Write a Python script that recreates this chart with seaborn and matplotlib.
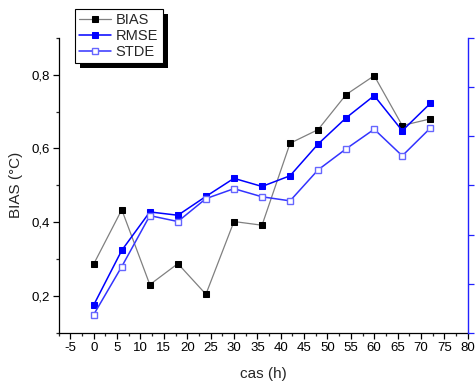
import matplotlib
matplotlib.use("Agg")
import matplotlib.pyplot as plt
from matplotlib.patches import Rectangle
from matplotlib.ticker import MultipleLocator, NullFormatter
import seaborn as sns
import pandas as pd

hours = [0, 6, 12, 18, 24, 30, 36, 42, 48, 54, 60, 66, 72]
bias = [0.287, 0.434, 0.231, 0.288, 0.205, 0.402, 0.392, 0.614, 0.651, 0.746, 0.797, 0.662, 0.680]
rmse = [0.176, 0.324, 0.428, 0.419, 0.470, 0.519, 0.497, 0.526, 0.612, 0.683, 0.743, 0.648, 0.722]
stde = [0.150, 0.280, 0.418, 0.402, 0.464, 0.491, 0.469, 0.458, 0.542, 0.599, 0.652, 0.580, 0.655]
x_ticks = list(range(-5, 81, 5))
y_ticks = [0.2, 0.4, 0.6, 0.8]
y_labels = ["0,2", "0,4", "0,6", "0,8"]

sns.set_theme(style="ticks")
plt.rcParams['font.family'] = ['Liberation Sans', 'DejaVu Sans']

fig = plt.figure(figsize=(4.77, 3.83), dpi=100)
ax = fig.add_axes([0.123, 0.1305, 0.9805 - 0.123, 0.9016 - 0.1305])

df = pd.DataFrame({"h": hours, "BIAS": bias, "RMSE": rmse, "STDE": stde})

sns.lineplot(data=df, x="h", y="BIAS", ax=ax, color="#808080", lw=0.9,
             marker="s", markersize=5, markerfacecolor="black", markeredgecolor="black",
             label="BIAS")
sns.lineplot(data=df, x="h", y="RMSE", ax=ax, color="#0000ff", lw=1.1,
             marker="s", markersize=5, markerfacecolor="#0000ff", markeredgecolor="#0000ff",
             label="RMSE")
sns.lineplot(data=df, x="h", y="STDE", ax=ax, color="#3333ff", lw=1.1,
             marker="s", markersize=5, markerfacecolor="white", markeredgecolor="#6666ff",
             markeredgewidth=1.0, label="STDE")

ax.set_xlim(-7.5, 80)
ax.set_ylim(0.1, 0.9)
ax.set_xticks(x_ticks)
ax.set_xticklabels([str(t) for t in x_ticks])
ax.xaxis.set_minor_locator(MultipleLocator(2.5))
ax.set_yticks(y_ticks)
ax.set_yticklabels(y_labels)
ax.yaxis.set_minor_locator(MultipleLocator(0.1))
ax.tick_params(axis="both", which="major", direction="out", length=4.5, width=0.9,
               labelsize=9.5, colors="black", pad=2)
ax.tick_params(axis="both", which="minor", direction="out", length=2.5, width=0.9)
for s in ["left", "bottom"]:
    ax.spines[s].set_color("black")
    ax.spines[s].set_linewidth(0.9)
ax.spines["top"].set_visible(False)
ax.spines["right"].set_visible(False)
ax.set_xlabel("cas (h)", fontsize=11, labelpad=9)
ax.set_ylabel("BIAS (°C)", fontsize=11, labelpad=6)

ax2 = ax.twinx()
ax2.set_ylim(0, 6)
ax2.set_yticks(range(0, 7))
ax2.yaxis.set_major_formatter(NullFormatter())
ax2.tick_params(axis="y", direction="out", length=4.5, width=0.9, color="#2222ff")
for s in ["left", "bottom", "top"]:
    ax2.spines[s].set_visible(False)
ax2.spines["right"].set_color("#2222ff")
ax2.spines["right"].set_linewidth(1.0)

ax.get_legend().remove()
h, l = ax.get_legend_handles_labels()
leg = fig.legend(h, l, loc="upper left", bbox_to_anchor=(75 / 477, 1 - 9 / 383),
                 bbox_transform=fig.transFigure, frameon=True, fancybox=False,
                 edgecolor="black", fontsize=10.5, handlelength=2.2, handletextpad=0.3,
                 borderpad=0.3, labelspacing=0.12, borderaxespad=0)
leg.get_frame().set_linewidth(0.8)
leg.get_frame().set_facecolor("white")
leg.get_frame().set_alpha(1)
leg.set_zorder(10)

fig.canvas.draw()
bb = leg.get_window_extent()
off = 5
shadow = Rectangle((bb.x0 + off, bb.y0 - off), bb.width, bb.height,
                   transform=None, facecolor="black", edgecolor="none", zorder=9)
fig.add_artist(shadow)

fig.savefig("out.png", dpi=100)
